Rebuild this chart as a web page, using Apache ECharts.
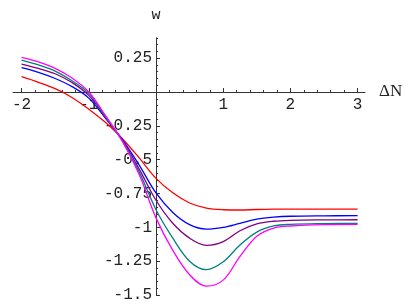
<!DOCTYPE html>
<html><head><meta charset="utf-8">
<script src="https://cdn.jsdelivr.net/npm/echarts@6/dist/echarts.min.js"></script>
<style>html,body{margin:0;padding:0;background:#fff}#c{width:416px;height:305px}</style>
</head><body><div id="c"></div>
<script>
var xs = [-2,-1.75,-1.5,-1.25,-1,-0.75,-0.5,-0.25,0,0.25,0.5,0.75,1,1.25,1.5,1.75,2,2.5,3];
var red = [0.113,0.072,0.025,-0.04,-0.127,-0.226,-0.345,-0.487,-0.638,-0.745,-0.82,-0.858,-0.87,-0.872,-0.868,-0.866,-0.865,-0.865,-0.865];
var blue = [0.18,0.145,0.10,0.04,-0.045,-0.195,-0.352,-0.54,-0.746,-0.89,-0.98,-1.013,-1.0,-0.97,-0.94,-0.925,-0.918,-0.915,-0.914];
var purple = [0.207,0.175,0.135,0.07,-0.025,-0.19,-0.358,-0.57,-0.80,-0.97,-1.08,-1.133,-1.105,-1.025,-0.975,-0.955,-0.948,-0.945,-0.944];
var teal = [0.236,0.2,0.155,0.083,-0.01,-0.183,-0.362,-0.59,-0.87,-1.08,-1.25,-1.313,-1.255,-1.13,-1.035,-0.99,-0.978,-0.972,-0.97];
var magenta = [0.256,0.222,0.175,0.103,0.0,-0.175,-0.365,-0.61,-0.93,-1.17,-1.35,-1.435,-1.39,-1.215,-1.065,-1.005,-0.99,-0.98,-0.978];
var xTickLabels = ['-2','-1','1','2','3'];
var yTickLabels = ['0.25','-0.25','-0.5','-0.75','-1','-1.25','-1.5'];

var seriesDefs = [
  {name:'r', data: red, color:'#ff0000'},
  {name:'b', data: blue, color:'#0000ff'},
  {name:'p', data: purple, color:'#800080'},
  {name:'t', data: teal, color:'#008080'},
  {name:'m', data: magenta, color:'#ff00ff'}
];
function pairs(ys){ return xs.map(function(x,i){ return [x, ys[i]]; }); }

var G = {left:21.6, width:336, top:58.2, height:236.8};
var X0 = G.left + G.width * (0 - (-2)) / 5;        // pixel of x=0
var Y0 = G.top + G.height * (0.25 - 0) / 1.75;      // pixel of y=0

var axisCol = '#333';
var lblFont = {fontFamily:'Liberation Mono', fontSize:16, color:'#222'};
var chart = echarts.init(document.getElementById('c'), null, {renderer:'canvas'});
chart.setOption({
  animation:false,
  grid:[
    {left:G.left, width:G.width, top:G.top, height:G.height, containLabel:false, outerBoundsMode:'none'},
    {left:13, width:352, top:37.9, height:257.1, containLabel:false, outerBoundsMode:'none'}
  ],
  xAxis:[
    {type:'value', gridIndex:0, min:-2, max:3, interval:1, position:'bottom',
     offset: -(G.top + G.height - Y0),
     axisLine:{show:false, onZero:false},
     axisTick:{show:true, inside:true, length:4, lineStyle:{color:axisCol}},
     minorTick:{show:true, splitNumber:5, length:2, lineStyle:{color:axisCol}},
     splitLine:{show:false}, minorSplitLine:{show:false},
     axisLabel:Object.assign({margin:5, formatter:function(v){
        var s = String(v); return xTickLabels.indexOf(s) >= 0 ? s : ''; }}, lblFont)},
    {type:'value', gridIndex:1, min:-2.13, max:3.11,
     axisLine:{show:true, onZero:true, lineStyle:{color:axisCol, width:1}},
     axisTick:{show:false}, axisLabel:{show:false}, splitLine:{show:false},
     name:'ΔN', nameLocation:'end', nameGap:14,
     nameTextStyle:{fontFamily:'Liberation Serif', fontSize:17, color:'#222'}}
  ],
  yAxis:[
    {type:'value', gridIndex:0, min:-1.5, max:0.25, interval:0.25, position:'left',
     offset: -(X0 - G.left),
     axisLine:{show:false, onZero:false},
     axisTick:{show:true, inside:true, length:4, lineStyle:{color:axisCol}},
     splitLine:{show:false},
     axisLabel:Object.assign({margin:4, formatter:function(v){
        var s = String(v); return yTickLabels.indexOf(s) >= 0 ? s : ''; }}, lblFont)},
    {type:'value', gridIndex:1, min:-1.5, max:0.4, interval:0.05,
     axisLine:{show:true, onZero:true, lineStyle:{color:axisCol, width:1}},
     axisTick:{show:true, inside:true, length:2, lineStyle:{color:axisCol}},
     axisLabel:{show:false}, splitLine:{show:false},
     name:'w', nameLocation:'end', nameGap:15,
     nameTextStyle:{fontFamily:'Liberation Mono', fontSize:15, color:'#222', align:'center'}}
  ],
  series: seriesDefs.map(function(s){
    return {type:'line', name:s.name, xAxisIndex:0, yAxisIndex:0, data:pairs(s.data),
      smooth:0.35, showSymbol:false, symbol:'none', clip:false,
      lineStyle:{color:s.color, width:1.3}};
  })
});
</script></body></html>
